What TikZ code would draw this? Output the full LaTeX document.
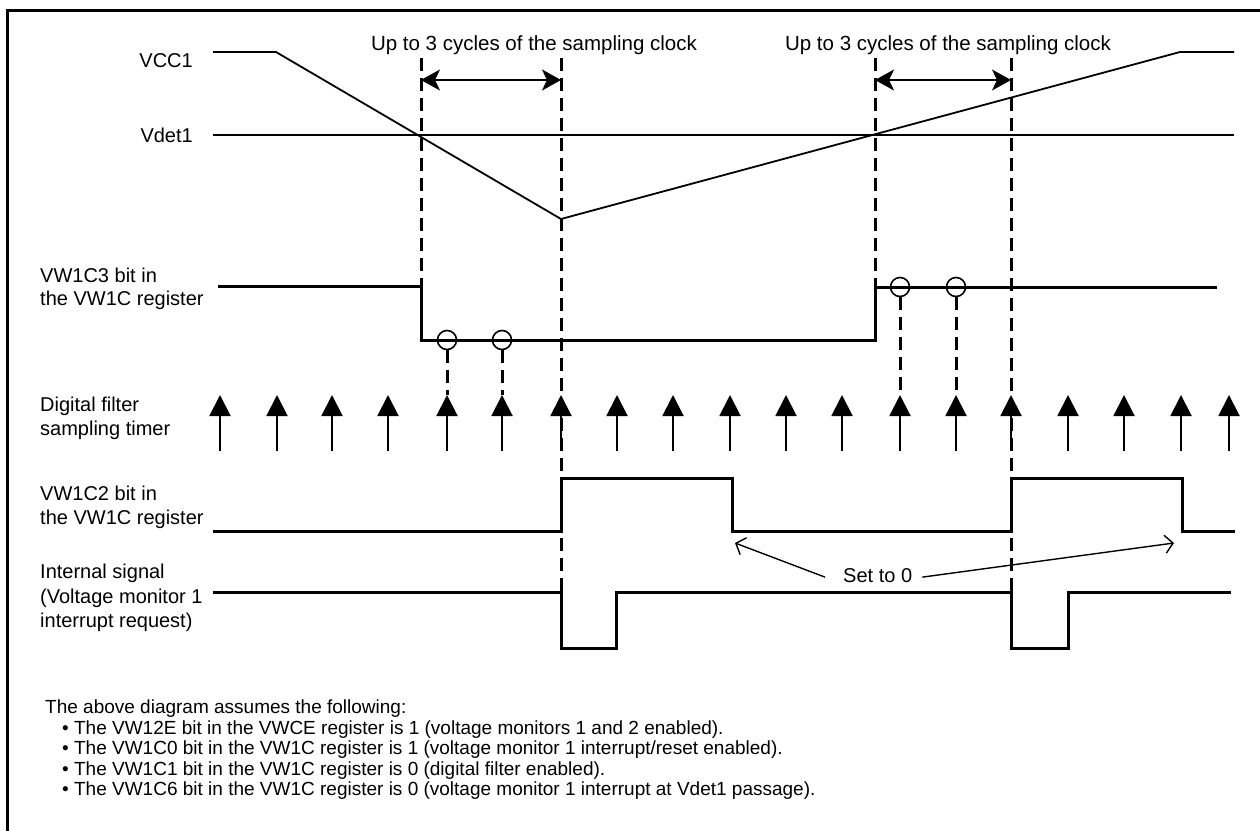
\documentclass[tikz,border=0pt]{standalone}
\usepackage{fontspec}
\setmainfont{Liberation Sans}
\usetikzlibrary{arrows.meta}
\tikzset{
  lbl/.style={inner sep=0pt, font=\fontsize{20}{24}\selectfont, anchor=base west},
  lblr/.style={inner sep=0pt, font=\fontsize{20}{24}\selectfont, anchor=base east},
  lblc/.style={inner sep=0pt, font=\fontsize{20.5}{24}\selectfont, anchor=base},
  note/.style={inner sep=0pt, font=\fontsize{19}{23}\selectfont, anchor=base west},
  frame/.style={line width=3pt},
  analog/.style={line width=1.8pt, line join=miter},
  refline/.style={line width=1.4pt},
  wave/.style={line width=3pt, line join=miter},
  dsh/.style={line width=3pt, dash pattern=on 13pt off 7pt},
  samp/.style={line width=2pt, -{Triangle[length=21pt,width=21pt]}},
  dbl/.style={line width=2pt, {Stealth[length=19pt,width=21pt,inset=5pt]}-{Stealth[length=19pt,width=21pt,inset=5pt]}},
  setarr/.style={line width=1.4pt, -{Straight Barb[length=8pt,width=18pt]}},
  ring/.style={line width=1.6pt}
}
\begin{document}
\begin{tikzpicture}[x=1pt,y=-1pt]
\useasboundingbox (0,0) rectangle (1260,830);
% frame (top and left edges)
\draw[frame] (7,840) -- (7,10) -- (1270,10);

% labels
\node[lblr] (vcc) at (193,67) {VCC1};
\node[lblr] (vdet) at (193,142) {Vdet1};
\node[lblc] (up1) at (534,50) {Up to 3 cycles of the sampling clock};
\node[lblc] (up2) at (948,50) {Up to 3 cycles of the sampling clock};
\node[lbl] (c3a) at (40,282) {VW1C3 bit in};
\node[lbl] (c3b) at (40,305) {the VW1C register};
\node[lbl] (dfa) at (40,411) {Digital filter};
\node[lbl] (dfb) at (40,435) {sampling timer};
\node[lbl] (c2a) at (40,500) {VW1C2 bit in};
\node[lbl] (c2b) at (40,524) {the VW1C register};
\node[lbl] (isa) at (40,578) {Internal signal};
\node[lbl] (isb) at (40,603) {(Voltage monitor 1};
\node[lbl] (isc) at (40,627) {interrupt request)};
\node[lbl] (set0) at (843,582) {Set to 0};

% notes
\node[note] (n0) at (45,713) {The above diagram assumes the following:};
\node[note] (n1) at (62,734) {\textbullet\ The VW12E bit in the VWCE register is 1 (voltage monitors 1 and 2 enabled).};
\node[note] (n2) at (62,754.5) {\textbullet\ The VW1C0 bit in the VW1C register is 1 (voltage monitor 1 interrupt/reset enabled).};
\node[note] (n3) at (62,775) {\textbullet\ The VW1C1 bit in the VW1C register is 0 (digital filter enabled).};
\node[note] (n4) at (62,795.5) {\textbullet\ The VW1C6 bit in the VW1C register is 0 (voltage monitor 1 interrupt at Vdet1 passage).};

% VCC1 and Vdet1
\draw[refline] (213,135) -- (1234,135);
\draw[analog] (213,52) -- (276,52) -- (561,219) -- (1180,52) -- (1234,52);

% dashed timing markers
\draw[dsh] (421,58) -- (421,285);
\draw[dsh] (561,58) -- (561,592);
\draw[dsh] (875,58) -- (875,287);
\draw[dsh] (1011,58) -- (1011,592);

% double arrows
\draw[dbl] (421,80) -- (561,80);
\draw[dbl] (875,80) -- (1011,80);

% VW1C3 waveform
\draw[wave] (218,286) -- (421,286) -- (421,340) -- (875,340) -- (875,287) -- (1217,287);

% circles and dashed links
\foreach \cx/\cy in {447/340,502/340,900/287,956/287}{
  \draw[ring] (\cx,\cy) circle[radius=9.5pt];
  \draw[dsh] (\cx,\cy+10) -- (\cx,395);
}

% sampling timer arrows
\foreach \ax in {220,277,332,388,447,502,561,617,673,730,786,842,900,956,1011,1068,1124,1181,1229}{
  \draw[samp] (\ax,451) -- (\ax,395);
}

% VW1C2 waveform
\draw[wave] (213,531) -- (561,531) -- (561,478) -- (732,478) -- (732,531) -- (1011,531) -- (1011,478) -- (1182,478) -- (1182,531) -- (1235,531);

% Internal signal waveform
\draw[wave] (213,592) -- (561,592) -- (561,648) -- (616,648) -- (616,592) -- (1011,592) -- (1011,648) -- (1068,648) -- (1068,592) -- (1231,592);

% Set to 0 arrows
\coordinate (t1) at (735,543);
\coordinate (t2) at (1174,543);
\draw[setarr] (set0.west) ++(-18pt,-2pt) -- (t1);
\draw[setarr] (set0.east) ++(10pt,-2pt) -- (t2);
\end{tikzpicture}
\end{document}
